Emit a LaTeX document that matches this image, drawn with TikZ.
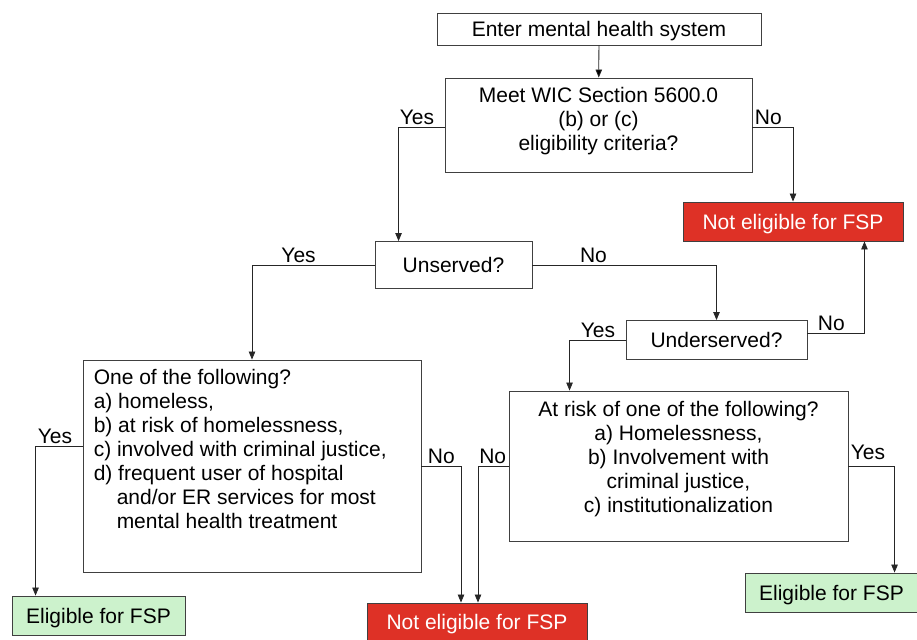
\documentclass[tikz,border=0pt]{standalone}
\usepackage{fontspec}
\setmainfont{Liberation Sans}
\usepackage{xcolor}
\usetikzlibrary{arrows.meta}
\usetikzlibrary{calc}

\definecolor{fspred}{HTML}{DE3126}
\definecolor{fspgreen}{HTML}{CCF2CC}

\tikzset{
  box/.style={draw=black!75, line width=0.9pt, inner sep=0pt, text depth=0pt},
  redbox/.style={box, fill=fspred, text=white},
  greenbox/.style={box, fill=fspgreen},
  arr/.style={draw=black!85, line width=0.8pt, -{Triangle[length=8pt,width=6.5pt]}},
  lbl/.style={inner sep=2pt, text depth=0pt},
}

\begin{document}
\begin{tikzpicture}[x=1pt, y=-1pt, font=\fontsize{21}{24}\selectfont]
      \useasboundingbox (0,0) rectangle (917,639);

      % boxes
      \node[box, minimum width=324pt, minimum height=32pt] (enter) at (599,29) {Enter mental health system};
      \node[box, minimum width=307pt, minimum height=94pt] (meet) at (598.5,125) {};
      \node[align=center, inner sep=0pt] (meettext) at ([yshift=4pt]meet.center)
        {Meet WIC Section 5600.0\\(b) or (c)\\eligibility criteria?};
      \node[redbox, minimum width=220pt, minimum height=39pt] (notelig) at (793,221.5) {Not eligible for FSP};
      \node[box, minimum width=157pt, minimum height=47pt] (unserved) at (453.5,265) {Unserved?};
      \node[box, minimum width=181pt, minimum height=39pt] (underserved) at (716.5,340) {Underserved?};
      \node[box, minimum width=338pt, minimum height=212pt] (oneof) at (252,466) {};
      \node[align=left, anchor=north west, inner sep=0pt] (oneoftext) at ([xshift=11pt, yshift=-10pt]oneof.north west)
        {One of the following?\\
         a) homeless,\\
         b) at risk of homelessness,\\
         c) involved with criminal justice,\\
         d) frequent user of hospital\\
         \hspace*{23pt}and/or ER services for most\\
         \hspace*{23pt}mental health treatment};
      \node[box, minimum width=339pt, minimum height=150pt] (atrisk) at (678.5,466) {};
      \node[align=center, inner sep=0pt] (atrisktext) at ([yshift=7pt]atrisk.center)
        {At risk of one of the following?\\
         a) Homelessness,\\
         b) Involvement with\\
         criminal justice,\\
         c) institutionalization};
      \node[greenbox, minimum width=173pt, minimum height=39pt] (eligA) at (98.5,615.5) {Eligible for FSP};
      \node[redbox, minimum width=220pt, minimum height=38pt] (noteligB) at (477,622) {Not eligible for FSP};
      \node[greenbox, minimum width=173pt, minimum height=39pt] (eligB) at (831.5,592.5) {Eligible for FSP};

      % connectors
      \path[arr] (enter) edge (meet);
      \draw[arr] ([yshift=-2pt]meet.west) -| ([xshift=24pt]unserved.north west)
        node[lbl, pos=0, anchor=south east, xshift=-8pt] {Yes};
      \draw[arr] ([yshift=-2pt]meet.east) -| (notelig.north)
        node[lbl, pos=0, anchor=south west] {No};
      \draw[arr] (unserved.west) -| (oneof.north)
        node[lbl, pos=0, anchor=south, xshift=-76pt] {Yes};
      \draw[arr] (unserved.east) -| (underserved.north)
        node[lbl, pos=0, anchor=south, xshift=61pt] {No};
      \draw[arr] ([yshift=7pt]underserved.east) -| ([xshift=-39pt]notelig.south east)
        node[lbl, pos=0, anchor=south west, xshift=8pt] {No};
      \draw[arr] (underserved.west) -| ([xshift=61pt]atrisk.north west)
        node[lbl, pos=0, anchor=south east, xshift=-8pt] {Yes};
      \draw[arr] (atrisk.east) -| ([xshift=150pt]eligB.north west)
        node[lbl, pos=0, anchor=south west, yshift=4pt] {Yes};
      \draw[arr] (atrisk.west) -| ([xshift=1pt]noteligB.north)
        node[lbl, pos=0, anchor=south east] {No};
      \draw[arr] (oneof.east) -| ([xshift=-16pt]noteligB.north)
        node[lbl, pos=0, anchor=south west, xshift=4pt] {No};
      \draw[arr] ([yshift=20pt]oneof.west) -| ([xshift=24pt]eligA.north west)
        node[lbl, pos=0, anchor=south east, xshift=-8pt] {Yes};
\end{tikzpicture}
\end{document}
